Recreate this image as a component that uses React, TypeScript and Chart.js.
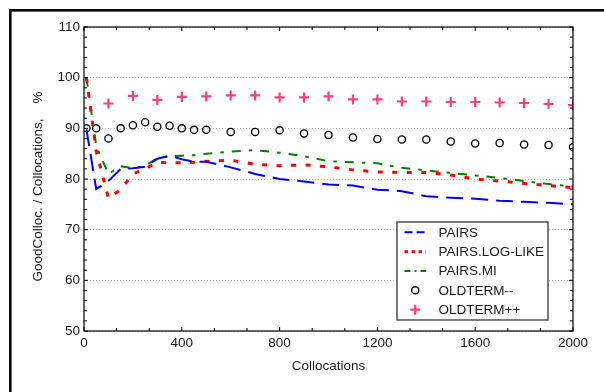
import React, { useEffect, useRef } from 'react';
import { Chart, registerables } from 'chart.js';

Chart.register(...registerables);

// ---- data ----
const xLine = [10, 50, 100, 150, 200, 250, 300, 350, 400, 450, 500, 600, 700, 800, 900, 1000, 1100, 1200, 1300, 1400, 1500, 1600, 1700, 1800, 1900, 2000];
const pairs = [89.8, 78.0, 79.6, 82.0, 82.1, 82.4, 84.0, 84.6, 83.9, 83.4, 83.4, 82.3, 81.0, 80.0, 79.5, 78.9, 78.7, 77.9, 77.6, 76.6, 76.3, 76.1, 75.7, 75.5, 75.3, 75.0];
const pairsLogLike = [100, 85.5, 76.2, 77.9, 81.0, 82.0, 83.3, 83.2, 83.2, 83.3, 83.5, 83.7, 82.9, 82.6, 82.8, 82.4, 81.8, 81.4, 81.3, 81.3, 80.8, 80.0, 79.6, 79.1, 78.7, 78.3];
const pairsMI = [100, 86.5, 81.0, 82.5, 82.1, 82.6, 84.1, 84.5, 84.6, 84.7, 85.0, 85.4, 85.7, 85.2, 84.5, 83.5, 83.3, 83.1, 82.2, 81.7, 81.2, 80.7, 80.2, 79.6, 79.0, 78.5];
const oldTermMinus = [90.0, 90.0, 88.0, 90.0, 90.6, 91.2, 90.3, 90.5, 90.0, 89.7, 89.7, 89.3, 89.3, 89.6, 89.0, 88.7, 88.2, 87.9, 87.8, 87.8, 87.4, 87.0, 87.1, 86.8, 86.7, 86.3];
const xPlus = [100, 200, 300, 400, 500, 600, 700, 800, 900, 1000, 1100, 1200, 1300, 1400, 1500, 1600, 1700, 1800, 1900, 2000];
const oldTermPlus = [94.9, 96.4, 95.6, 96.2, 96.3, 96.5, 96.5, 96.1, 96.1, 96.3, 95.7, 95.7, 95.3, 95.3, 95.2, 95.2, 95.1, 95.0, 94.8, 94.6];

const seriesNames = ['PAIRS', 'PAIRS.LOG-LIKE', 'PAIRS.MI', 'OLDTERM--', 'OLDTERM++'];
const xTicks = [0, 400, 800, 1200, 1600, 2000];
const yTicks = [50, 60, 70, 80, 90, 100, 110];
const xTitle = 'Collocations';
const yTitle = 'GoodColloc. / Collocations,    %';

const FONT = "'Liberation Sans', Arial, sans-serif";
const PINK = 'rgb(245,64,125)';

const zip = (xs: number[], ys: number[]) => xs.map((x, i) => ({ x, y: ys[i] }));

const decor = {
  id: 'decor',
  beforeDraw(chart: any) {
    const { ctx, width, height } = chart;
    ctx.save();
    ctx.fillStyle = '#fff';
    ctx.fillRect(0, 0, width, height);
    ctx.restore();
  },
  afterDraw(chart: any) {
    const { ctx, chartArea: a, scales } = chart;
    const xs = scales.x;
    const ys = scales.y;
    ctx.save();
    // outer frame
    ctx.strokeStyle = '#000';
    ctx.lineWidth = 2.5;
    ctx.strokeRect(10.3, 10.3, 800, 800);

    // plot frame
    ctx.lineWidth = 1.2;
    ctx.strokeRect(a.left, a.top, a.right - a.left, a.bottom - a.top);

    // inward ticks
    ctx.lineWidth = 1;
    ctx.beginPath();
    const xMin = xTicks[0], xMax = xTicks[xTicks.length - 1];
    const xStep = (xTicks[1] - xTicks[0]) / 3;
    for (let v = xMin; v <= xMax + 1e-6; v += xStep) {
      const px = xs.getPixelForValue(v);
      const major = xTicks.some((t) => Math.abs(t - v) < 1e-6);
      const len = major ? 4 : 3;
      ctx.moveTo(px, a.bottom);
      ctx.lineTo(px, a.bottom - len);
      ctx.moveTo(px, a.top);
      ctx.lineTo(px, a.top + len);
    }
    const yMin = yTicks[0], yMax = yTicks[yTicks.length - 1];
    for (let v = yMin; v <= yMax + 1e-6; v += 2) {
      const py = ys.getPixelForValue(v);
      const major = yTicks.some((t) => Math.abs(t - v) < 1e-6);
      const len = major ? 4 : 3;
      ctx.moveTo(a.left, py);
      ctx.lineTo(a.left + len, py);
      ctx.moveTo(a.right, py);
      ctx.lineTo(a.right - len, py);
    }
    ctx.stroke();

    // legend
    const bw = 151, bh = 98;
    const bx = a.right - 25 - bw;
    const by = a.bottom - 11 - bh;
    ctx.fillStyle = '#fff';
    ctx.fillRect(bx, by, bw, bh);
    ctx.strokeStyle = '#333';
    ctx.lineWidth = 1.3;
    ctx.strokeRect(bx, by, bw, bh);

    const legendDash = [[8, 4], [3.5, 3.5], [6, 4, 2, 4], null, null];
    const legendWidths = [2, 3, 2, 0, 0];
    ctx.font = `13.5px ${FONT}`;
    ctx.textBaseline = 'middle';
    ctx.textAlign = 'left';
    chart.data.datasets.forEach((ds: any, i: number) => {
      const cy = by + 10.3 + i * 19.35;
      const sx = bx + 7.5;
      const ex = bx + 29;
      const mx = (sx + ex) / 2;
      ctx.save();
      if (legendDash[i]) {
        ctx.strokeStyle = ds.borderColor;
        ctx.lineWidth = legendWidths[i];
        ctx.setLineDash(legendDash[i] as number[]);
        ctx.beginPath();
        ctx.moveTo(sx, cy);
        ctx.lineTo(ex, cy);
        ctx.stroke();
      } else if (ds.pointStyle === 'circle') {
        ctx.strokeStyle = ds.pointBorderColor;
        ctx.lineWidth = ds.pointBorderWidth;
        ctx.beginPath();
        ctx.arc(mx, cy, ds.pointRadius, 0, Math.PI * 2);
        ctx.stroke();
      } else {
        const r = ds.pointRadius;
        ctx.strokeStyle = ds.pointBorderColor;
        ctx.lineWidth = ds.pointBorderWidth;
        ctx.beginPath();
        ctx.moveTo(mx - r, cy);
        ctx.lineTo(mx + r, cy);
        ctx.moveTo(mx, cy - r);
        ctx.lineTo(mx, cy + r);
        ctx.stroke();
      }
      ctx.restore();
      ctx.fillStyle = '#1a1a1a';
      ctx.fillText(ds.label, bx + 41.5, cy + 0.5);
    });
    ctx.restore();
  },
};

export default function App() {
  const ref = useRef<HTMLCanvasElement | null>(null);

  useEffect(() => {
    if (!ref.current) return;
    const chart = new Chart(ref.current, {
      type: 'line',
      data: {
        datasets: [
          {
            label: seriesNames[0],
            data: zip(xLine, pairs),
            borderColor: '#0000ff',
            borderWidth: 2,
            borderDash: [17, 8],
            pointRadius: 0,
            fill: false,
            tension: 0,
          },
          {
            label: seriesNames[1],
            data: zip(xLine, pairsLogLike),
            borderColor: '#ff0000',
            borderWidth: 3,
            borderDash: [5, 9.5],
            pointRadius: 0,
            fill: false,
            tension: 0,
          },
          {
            label: seriesNames[2],
            data: zip(xLine, pairsMI),
            borderColor: '#008000',
            borderWidth: 2,
            borderDash: [9, 8, 3.5, 8],
            pointRadius: 0,
            fill: false,
            tension: 0,
          },
          {
            label: seriesNames[3],
            data: zip(xLine, oldTermMinus),
            showLine: false,
            pointStyle: 'circle',
            pointRadius: 3.6,
            pointBorderWidth: 1.3,
            pointBorderColor: '#000',
            pointBackgroundColor: 'rgba(0,0,0,0)',
            borderColor: '#000',
          },
          {
            label: seriesNames[4],
            data: zip(xPlus, oldTermPlus),
            showLine: false,
            pointStyle: 'cross',
            pointRadius: 5,
            pointBorderWidth: 2.2,
            pointBorderColor: PINK,
            pointBackgroundColor: PINK,
            borderColor: PINK,
          },
        ] as any,
      },
      options: {
        animation: false,
        responsive: false,
        devicePixelRatio: 1,
        layout: { padding: { left: 0, right: 31, top: 27, bottom: 0 } },
        plugins: {
          legend: { display: false },
          tooltip: { enabled: false },
        },
        scales: {
          x: {
            type: 'linear',
            min: 0,
            max: 2000,
            afterBuildTicks: (s: any) => {
              s.ticks = xTicks.map((v) => ({ value: v }));
            },
            afterFit: (s: any) => {
              s.height = 61;
            },
            grid: { display: false, drawTicks: false },
            border: { display: false },
            ticks: {
              padding: 4,
              maxRotation: 0,
              color: '#1a1a1a',
              font: { family: FONT, size: 13.5 },
              callback: (v: any) => String(v),
            },
            title: {
              display: true,
              text: xTitle,
              color: '#1a1a1a',
              font: { family: FONT, size: 13.5 },
              padding: { top: 0, bottom: 18 },
            },
          },
          y: {
            type: 'linear',
            min: 50,
            max: 110,
            afterBuildTicks: (s: any) => {
              s.ticks = yTicks.map((v) => ({ value: v }));
            },
            afterFit: (s: any) => {
              s.width = 84;
            },
            grid: { display: true, drawTicks: false, color: '#bdbdbd', lineWidth: 1 },
            border: { display: false, dash: [1, 2] },
            ticks: {
              padding: 4,
              color: '#1a1a1a',
              font: { family: FONT, size: 13.5 },
              callback: (v: any) => String(v),
            },
            title: {
              display: true,
              text: yTitle + '    ',
              color: '#1a1a1a',
              font: { family: FONT, size: 13.5 },
              padding: { top: 30, bottom: 0 },
            },
          },
        },
      } as any,
      plugins: [decor],
    });
    return () => chart.destroy();
  }, []);

  return (
    <div style={{ position: 'absolute', left: 0, top: 0, width: 604, height: 392 }}>
      <canvas ref={ref} width={604} height={392} style={{ display: 'block' }} />
    </div>
  );
}
